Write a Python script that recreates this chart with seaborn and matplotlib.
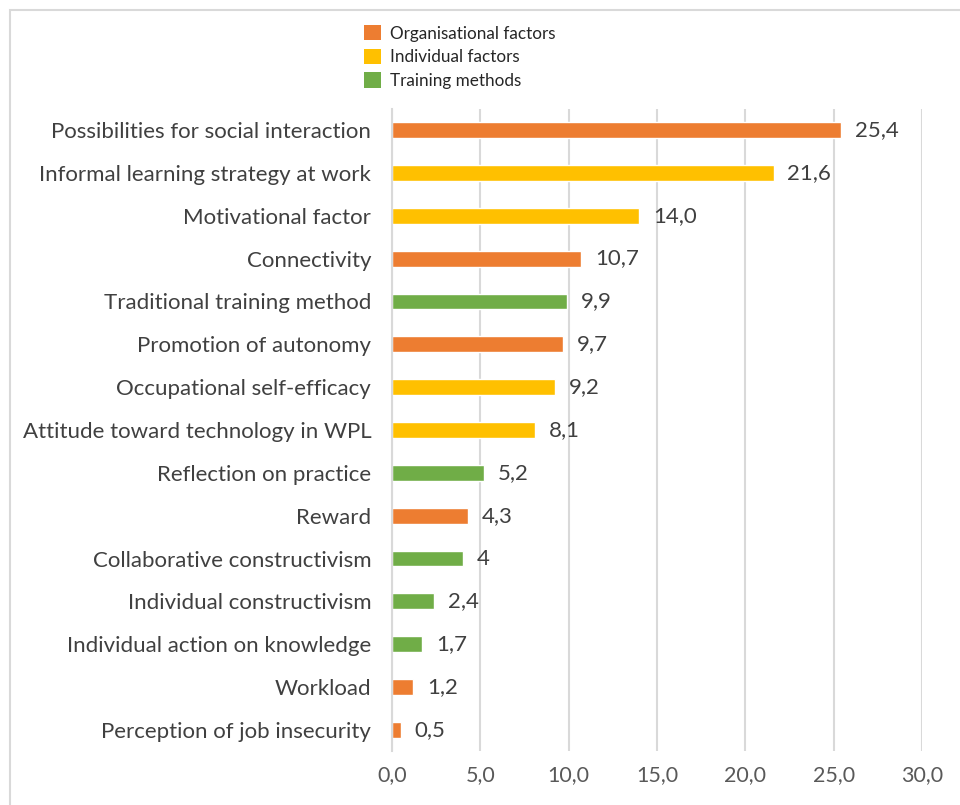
import matplotlib
matplotlib.use("Agg")
import matplotlib.pyplot as plt
import seaborn as sns
import pandas as pd
from matplotlib.patches import Rectangle, Patch

factors = [
    "Possibilities for social interaction",
    "Informal learning strategy at work",
    "Motivational factor",
    "Connectivity",
    "Traditional training method",
    "Promotion of autonomy",
    "Occupational self-efficacy",
    "Attitude toward technology in WPL",
    "Reflection on practice",
    "Reward",
    "Collaborative constructivism",
    "Individual constructivism",
    "Individual action on knowledge",
    "Workload",
    "Perception of job insecurity",
]
values = [25.4, 21.6, 14.0, 10.7, 9.9, 9.7, 9.2, 8.1, 5.2, 4.3, 4, 2.4, 1.7, 1.2, 0.5]
groups = [
    "Organisational factors", "Individual factors", "Individual factors",
    "Organisational factors", "Training methods", "Organisational factors",
    "Individual factors", "Individual factors", "Training methods",
    "Organisational factors", "Training methods", "Training methods",
    "Training methods", "Organisational factors", "Organisational factors",
]
group_order = ["Organisational factors", "Individual factors", "Training methods"]
palette = {"Organisational factors": "#ED7D31",
           "Individual factors": "#FFC000",
           "Training methods": "#70AD47"}
xticks = [0, 5, 10, 15, 20, 25, 30]

df = pd.DataFrame({"factor": factors, "value": values, "group": groups})

sns.set_style("white")
plt.rcParams["font.family"] = ["Lato", "DejaVu Sans"]

fig = plt.figure(figsize=(9.6, 8.05), dpi=100)
ax = fig.add_axes([0.4083, 0.0666, 0.5521, 0.7985])

sns.barplot(data=df, y="factor", x="value", hue="group", hue_order=group_order,
            order=factors, palette=palette, dodge=False, orient="h",
            width=0.37, saturation=1, ax=ax, legend=False)

ax.set_xlim(0, 30)
ax.set_ylim(len(factors) - 0.5, -0.5)
ax.set_xticks(xticks)
ax.set_xticklabels([f"{t:.1f}".replace(".", ",") for t in xticks],
                   fontsize=15.5, color="#595959")
ax.tick_params(axis="y", labelsize=16, labelcolor="#404040", length=0, pad=15)
ax.tick_params(axis="x", length=0, pad=10)
ax.set_xlabel("")
ax.set_ylabel("")

ax.grid(axis="x", color="#D9D9D9", linewidth=1.5)
ax.set_axisbelow(True)
for side in ["top", "right", "bottom"]:
    ax.spines[side].set_visible(False)
ax.spines["left"].set_color("#D9D9D9")
ax.spines["left"].set_linewidth(1.5)

for i, v in enumerate(values):
    txt = str(v) if isinstance(v, int) else f"{v:.1f}".replace(".", ",")
    ax.annotate(txt, xy=(v, i), xytext=(10, 0), textcoords="offset points",
                va="center", ha="left", fontsize=16, color="#404040")

handles = [Patch(facecolor=palette[g], edgecolor="none") for g in group_order]
fig.legend(handles, group_order, loc="upper left", bbox_to_anchor=(0.363, 0.988),
           frameon=False, fontsize=12.3, handlelength=1.0, handleheight=1.0,
           handletextpad=0.55, labelspacing=0.42, labelcolor="#262626")

fig.patches.append(Rectangle((9.5 / 960, -0.1), 1.2, 1 - 10.5 / 805 + 0.1,
                             transform=fig.transFigure, fill=False,
                             edgecolor="#D9D9D9", linewidth=1.5))

fig.savefig("out.png", dpi=100, facecolor="white")
